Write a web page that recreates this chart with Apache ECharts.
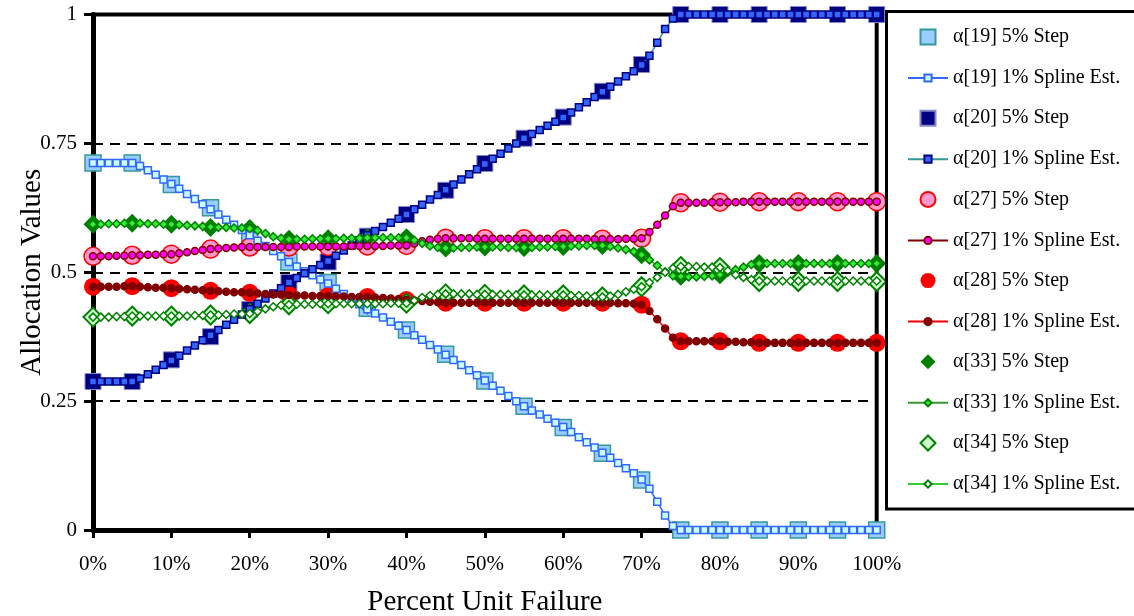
<!DOCTYPE html>
<html><head><meta charset="utf-8">
<script src="https://cdn.jsdelivr.net/npm/echarts@6/dist/echarts.min.js"></script>
<style>html,body{margin:0;padding:0;background:#fff}#c{width:1134px;height:616px}</style>
</head><body><div id="c"></div>
<script>
// x positions (percent unit failure)
const pct5 = [0,5,10,15,20,25,30,35,40,45,50,55,60,65,70,75,80,85,90,95,100];
const pct1 = Array.from({length:101}, (_, i) => i);

// 5% step values
const s19 = [0.712,0.712,0.670,0.625,0.572,0.520,0.480,0.430,0.388,0.341,0.289,0.240,0.199,0.149,0.097,0,0,0,0,0,0];
const s20 = [0.288,0.288,0.330,0.375,0.428,0.480,0.520,0.570,0.612,0.659,0.711,0.760,0.801,0.851,0.903,1,1,1,1,1,1];
const s27 = [0.531,0.533,0.535,0.545,0.549,0.549,0.550,0.551,0.552,0.566,0.565,0.565,0.565,0.564,0.566,0.635,0.636,0.637,0.637,0.637,0.637];
const s28 = [0.472,0.473,0.469,0.464,0.460,0.456,0.454,0.452,0.446,0.441,0.441,0.441,0.441,0.441,0.437,0.366,0.366,0.363,0.363,0.363,0.363];
const s33 = [0.593,0.595,0.593,0.587,0.585,0.564,0.565,0.567,0.567,0.547,0.549,0.548,0.550,0.552,0.534,0.492,0.495,0.517,0.517,0.517,0.517];
const s34 = [0.413,0.415,0.415,0.417,0.420,0.437,0.439,0.439,0.440,0.458,0.457,0.456,0.456,0.452,0.472,0.511,0.509,0.482,0.482,0.482,0.482];

// 1% spline estimates
const sp19 = [
0.712,0.712,0.712,0.712,0.712,0.712,0.706,0.698,0.689,0.680,
0.671,0.662,0.652,0.642,0.632,0.622,0.612,0.602,0.592,0.582,
0.572,0.561,0.551,0.541,0.531,0.520,0.511,0.502,0.494,0.486,
0.478,0.468,0.458,0.448,0.438,0.428,0.420,0.412,0.404,0.396,
0.388,0.378,0.369,0.359,0.350,0.340,0.330,0.320,0.310,0.300,
0.290,0.280,0.270,0.260,0.250,0.240,0.232,0.224,0.216,0.208,
0.200,0.190,0.180,0.170,0.160,0.150,0.140,0.130,0.120,0.110,
0.098,0.080,0.055,0.028,0.008,0,0,0,0,0,
0,0,0,0,0,0,0,0,0,0,
0,0,0,0,0,0,0,0,0,0,
0];
const sp20 = [
0.288,0.288,0.288,0.288,0.288,0.288,0.294,0.302,0.311,0.320,
0.329,0.338,0.348,0.358,0.368,0.378,0.388,0.398,0.408,0.418,
0.428,0.439,0.449,0.459,0.469,0.480,0.489,0.498,0.506,0.514,
0.522,0.532,0.542,0.552,0.562,0.572,0.580,0.588,0.596,0.604,
0.612,0.622,0.631,0.641,0.650,0.660,0.670,0.680,0.690,0.700,
0.710,0.720,0.730,0.740,0.750,0.760,0.768,0.776,0.784,0.792,
0.800,0.810,0.820,0.830,0.840,0.850,0.860,0.870,0.880,0.890,
0.902,0.920,0.945,0.972,0.992,1,1,1,1,1,
1,1,1,1,1,1,1,1,1,1,
1,1,1,1,1,1,1,1,1,1,
1];
const sp27 = [
0.531,0.531,0.531,0.532,0.532,0.533,0.533,0.534,0.534,0.535,
0.535,0.537,0.539,0.541,0.543,0.545,0.546,0.547,0.548,0.549,
0.549,0.549,0.549,0.549,0.549,0.549,0.550,0.550,0.550,0.550,
0.550,0.550,0.550,0.551,0.551,0.551,0.551,0.551,0.552,0.552,
0.552,0.556,0.560,0.563,0.565,0.566,0.566,0.566,0.566,0.565,
0.565,0.565,0.565,0.565,0.565,0.565,0.565,0.565,0.565,0.565,
0.565,0.565,0.565,0.565,0.564,0.564,0.564,0.564,0.565,0.565,
0.566,0.578,0.592,0.610,0.628,0.635,0.635,0.635,0.635,0.636,
0.636,0.636,0.636,0.637,0.637,0.637,0.637,0.637,0.637,0.637,
0.637,0.637,0.637,0.637,0.637,0.637,0.637,0.637,0.637,0.637,
0.637];
const sp28 = [
0.472,0.472,0.472,0.472,0.473,0.473,0.472,0.471,0.470,0.470,
0.469,0.468,0.467,0.466,0.465,0.464,0.463,0.462,0.461,0.461,
0.460,0.459,0.458,0.457,0.457,0.456,0.455,0.455,0.454,0.454,
0.454,0.453,0.453,0.452,0.452,0.452,0.451,0.450,0.449,0.448,
0.446,0.445,0.444,0.443,0.442,0.441,0.441,0.441,0.441,0.441,
0.441,0.441,0.441,0.441,0.441,0.441,0.441,0.441,0.441,0.441,
0.441,0.441,0.441,0.441,0.441,0.441,0.441,0.440,0.440,0.439,
0.437,0.425,0.409,0.391,0.373,0.366,0.366,0.366,0.366,0.366,
0.366,0.365,0.365,0.364,0.364,0.363,0.363,0.363,0.363,0.363,
0.363,0.363,0.363,0.363,0.363,0.363,0.363,0.363,0.363,0.363,
0.363];
const sp33 = [
0.593,0.593,0.594,0.594,0.595,0.595,0.595,0.594,0.594,0.593,
0.593,0.592,0.591,0.590,0.589,0.588,0.587,0.587,0.586,0.586,
0.585,0.581,0.575,0.569,0.566,0.564,0.564,0.564,0.565,0.565,
0.565,0.565,0.566,0.566,0.566,0.567,0.567,0.567,0.567,0.567,
0.567,0.562,0.556,0.551,0.548,0.547,0.547,0.548,0.548,0.549,
0.549,0.549,0.549,0.548,0.548,0.548,0.548,0.549,0.549,0.550,
0.550,0.551,0.551,0.552,0.552,0.552,0.550,0.547,0.544,0.540,
0.534,0.524,0.513,0.501,0.493,0.492,0.491,0.491,0.492,0.493,
0.495,0.500,0.505,0.510,0.515,0.517,0.517,0.517,0.517,0.517,
0.517,0.517,0.517,0.517,0.517,0.517,0.517,0.517,0.517,0.517,
0.517];
const sp34 = [
0.413,0.413,0.413,0.414,0.414,0.415,0.415,0.415,0.415,0.415,
0.415,0.415,0.415,0.416,0.416,0.417,0.417,0.418,0.419,0.419,
0.420,0.424,0.429,0.433,0.436,0.437,0.438,0.438,0.438,0.439,
0.439,0.439,0.439,0.439,0.439,0.439,0.439,0.439,0.440,0.440,
0.440,0.445,0.451,0.455,0.457,0.458,0.458,0.458,0.458,0.457,
0.457,0.457,0.457,0.457,0.456,0.456,0.456,0.456,0.456,0.456,
0.456,0.455,0.455,0.454,0.453,0.452,0.454,0.457,0.462,0.467,
0.472,0.480,0.490,0.500,0.508,0.511,0.511,0.511,0.510,0.510,
0.509,0.503,0.495,0.490,0.486,0.483,0.483,0.483,0.483,0.483,
0.483,0.483,0.483,0.483,0.483,0.483,0.483,0.483,0.483,0.483,
0.483];

const stepNames = ['α[19] 5% Step','α[20] 5% Step','α[27] 5% Step','α[28] 5% Step','α[33] 5% Step','α[34] 5% Step'];
const splineNames = ['α[19] 1% Spline Est.','α[20] 1% Spline Est.','α[27] 1% Spline Est.','α[28] 1% Spline Est.','α[33] 1% Spline Est.','α[34] 1% Spline Est.'];
const xTitle = 'Percent Unit Failure';
const yTitle = 'Allocation Values';

const FONT = "'Liberation Serif','Times New Roman',serif";
const pairs = (xs, ys) => xs.map((x, i) => [x, ys[i]]);

// legend icons: a 40x15 box (defined by move-to corners) with the marker centred in it
const ICON = {
  rect: 'path://M0,0M40,15M12.5,0L27.5,0L27.5,15L12.5,15Z',
  circle: 'path://M0,0M40,15M20,0A7.5,7.5,0,1,1,20,15A7.5,7.5,0,1,1,20,0Z',
  diamond: 'path://M0,0M40,15M20,0L27.5,7.5L20,15L12.5,7.5Z'
};
const stepSymbols = ['rect','rect','circle','circle','diamond','diamond'];

function step(name, ys, symbol, size, fill, border, bw) {
  return { name, type: 'scatter', data: pairs(pct5, ys), symbol, symbolSize: size,
    itemStyle: { color: fill, borderColor: border, borderWidth: bw, opacity: 1 },
    emphasis: { disabled: true }, silent: true };
}
function spline(name, ys, symbol, size, line, fill, border) {
  return { name, type: 'line', data: pairs(pct1, ys), symbol, symbolSize: size, showSymbol: true,
    lineStyle: { color: line, width: 1.5 },
    itemStyle: { color: fill, borderColor: border, borderWidth: 1.5 },
    emphasis: { disabled: true }, silent: true };
}

const series = [
  step(stepNames[0], s19, 'rect', 16, '#99ccff', '#339999', 1.5),
  spline(splineNames[0], sp19, 'rect', 7, '#3366ff', '#ccffff', '#3366ff'),
  step(stepNames[1], s20, 'rect', 16, '#000080', '#8888cc', 1),
  spline(splineNames[1], sp20, 'rect', 7, '#339999', '#3366ff', '#000080'),
  step(stepNames[2], s27, 'circle', 18, '#ff99cc', '#ff0000', 1.5),
  spline(splineNames[2], sp27, 'circle', 7, '#800000', '#ff00ff', '#800000'),
  step(stepNames[3], s28, 'circle', 18, '#ff0000', '#ff0000', 0),
  spline(splineNames[3], sp28, 'circle', 7, '#ff0000', '#800000', '#800000'),
  step(stepNames[4], s33, 'diamond', 19, '#008000', '#008000', 0),
  spline(splineNames[4], sp33, 'diamond', 8, '#339933', '#33ee33', '#008000'),
  step(stepNames[5], s34, 'diamond', 19, '#ccffcc', '#008000', 2),
  spline(splineNames[5], sp34, 'diamond', 8, '#33cc33', '#ffffff', '#008000')
];

const legendText = { fontFamily: FONT, fontSize: 20, color: '#000', lineHeight: 20 };
const chart = echarts.init(document.getElementById('c'), null, { renderer: 'canvas' });
chart.setOption({
  animation: false,
  backgroundColor: '#fff',
  grid: { left: 93, top: 14.5, width: 783.7, height: 515.5, show: true, borderColor: '#000', borderWidth: 4,
    backgroundColor: 'transparent', containLabel: false, outerBoundsMode: 'none' },
  xAxis: {
    type: 'value', min: 0, max: 100, interval: 10,
    name: xTitle, nameLocation: 'middle', nameGap: 58, nameMoveOverlap: false,
    nameTextStyle: { fontFamily: FONT, fontSize: 29, color: '#000' },
    axisLine: { lineStyle: { color: '#000', width: 5 } },
    axisTick: { length: 8, lineStyle: { color: '#000', width: 3 } },
    axisLabel: { formatter: '{value}%', fontFamily: FONT, fontSize: 21, color: '#000', margin: 24 },
    splitLine: { show: false }
  },
  yAxis: {
    type: 'value', min: 0, max: 1, interval: 0.25,
    name: yTitle, nameLocation: 'middle', nameGap: 46, nameMoveOverlap: false,
    nameTextStyle: { fontFamily: FONT, fontSize: 29, color: '#000' },
    axisLine: { lineStyle: { color: '#000', width: 5 } },
    axisTick: { length: 9, lineStyle: { color: '#000', width: 3 } },
    axisLabel: { fontFamily: FONT, fontSize: 21, color: '#000', margin: 16 },
    splitLine: { show: true, lineStyle: { color: '#000', width: 2, type: [10, 7] } }
  },
  legend: [
    { orient: 'vertical', left: 907, top: 27, padding: 0, itemWidth: 40, itemHeight: 15, itemGap: 61.2,
      symbolKeepAspect: false,
      data: stepNames.map((n, i) => ({ name: n, icon: ICON[stepSymbols[i]] })),
      textStyle: legendText, selectedMode: false },
    { orient: 'vertical', left: 907, top: 68, padding: 0, itemWidth: 40, itemHeight: 9, itemGap: 61.2,
      data: splineNames, textStyle: legendText, selectedMode: false }
  ],
  graphic: [
    { type: 'rect', z: 100, silent: true, shape: { x: 886.5, y: 11.5, width: 320, height: 497.5 },
      style: { fill: null, stroke: '#000', lineWidth: 3 } }
  ],
  series
});
</script></body></html>
